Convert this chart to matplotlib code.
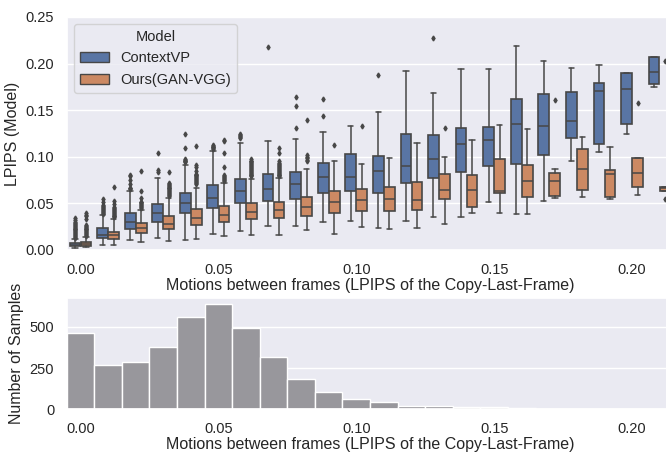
import numpy as np
import matplotlib
matplotlib.use("Agg")
import matplotlib.pyplot as plt
import seaborn as sns
from matplotlib.patches import Patch

# motion bins (LPIPS of copy-last-frame), one box group per 0.01 bin
bins = [0.00, 0.01, 0.02, 0.03, 0.04, 0.05, 0.06, 0.07, 0.08, 0.09, 0.10,
        0.11, 0.12, 0.13, 0.14, 0.15, 0.16, 0.17, 0.18, 0.19, 0.20, 0.21]
tick_labels = ["0.00", "0.05", "0.10", "0.15", "0.20"]

# ContextVP box statistics
ctx_lo = [0.0023, 0.0059, 0.0105, 0.0124, 0.0105, 0.0177, 0.0205, 0.026, 0.026, 0.0296, 0.0313,
          0.0234, 0.031, 0.0356, 0.035, 0.0517, 0.0388, 0.0525, 0.0952, 0.1055, 0.124, 0.1754]
ctx_q1 = [0.0041, 0.0134, 0.0227, 0.0296, 0.0392, 0.0446, 0.050, 0.0525, 0.055, 0.0607, 0.0632,
          0.0614, 0.0715, 0.0769, 0.084, 0.0904, 0.0926, 0.1023, 0.120, 0.1138, 0.135, 0.178]
ctx_med = [0.0058, 0.0162, 0.0296, 0.0392, 0.050, 0.0554, 0.0632, 0.0654, 0.0704, 0.0786, 0.0786,
           0.0847, 0.0901, 0.098, 0.114, 0.1184, 0.1356, 0.1331, 0.1382, 0.1708, 0.1729, 0.1912]
ctx_q3 = [0.0077, 0.0234, 0.0392, 0.0492, 0.0607, 0.0697, 0.0761, 0.0812, 0.0833, 0.0937, 0.103,
          0.1009, 0.124, 0.1234, 0.1306, 0.132, 0.1618, 0.167, 0.1694, 0.1797, 0.1894, 0.207]
ctx_hi = [0.012, 0.0374, 0.0632, 0.0772, 0.0915, 0.106, 0.1145, 0.117, 0.119, 0.127, 0.1334,
          0.148, 0.192, 0.1686, 0.194, 0.1937, 0.219, 0.2023, 0.1955, 0.198, 0.1894, 0.2075]
ctx_fliers = [
    [0.013, 0.014, 0.015, 0.016, 0.017, 0.018, 0.019, 0.020, 0.021, 0.022, 0.023, 0.024, 0.025,
     0.026, 0.027, 0.028, 0.029, 0.030, 0.032, 0.034],
    [0.039, 0.040, 0.041, 0.042, 0.043, 0.044, 0.045, 0.046, 0.047, 0.048, 0.051, 0.055],
    [0.065, 0.066, 0.067, 0.071, 0.075, 0.079, 0.081],
    [0.084, 0.086, 0.104],
    [0.094, 0.095, 0.096, 0.097, 0.098, 0.109, 0.125],
    [0.108, 0.109, 0.110, 0.111, 0.112, 0.113],
    [0.120, 0.121, 0.122, 0.123, 0.1245],
    [0.2177],
    [0.131, 0.155, 0.164],
    [0.144, 0.162],
    [], [0.188], [], [0.227], [], [], [], [], [], [], [], [],
]

# Ours(GAN-VGG) box statistics
our_lo = [0.003, 0.0059, 0.0081, 0.0098, 0.0113, 0.0152, 0.0162, 0.016, 0.0213, 0.0177, 0.0249,
          0.022, 0.0234, 0.0277, 0.0392, 0.0399, 0.0381, 0.0557, 0.0565, 0.0546, 0.0589, 0.0635]
our_q1 = [0.0044, 0.012, 0.0184, 0.022, 0.0267, 0.0302, 0.0328, 0.0339, 0.0367, 0.0392, 0.0414,
          0.042, 0.0425, 0.0543, 0.0463, 0.0607, 0.0568, 0.0582, 0.0643, 0.0571, 0.0672, 0.0635]
our_med = [0.0066, 0.0156, 0.0238, 0.0274, 0.0339, 0.0374, 0.041, 0.0428, 0.0463, 0.051, 0.0535,
           0.0546, 0.0532, 0.0643, 0.0646, 0.0635, 0.074, 0.0743, 0.0866, 0.0812, 0.0826, 0.066]
our_q3 = [0.0087, 0.0195, 0.0285, 0.0363, 0.0435, 0.0471, 0.0506, 0.0517, 0.0571, 0.0632, 0.065,
          0.0679, 0.0732, 0.0812, 0.0801, 0.098, 0.0912, 0.0823, 0.108, 0.0858, 0.0987, 0.0678]
our_hi = [0.014, 0.0328, 0.0428, 0.056, 0.0665, 0.072, 0.0758, 0.0772, 0.0872, 0.0958, 0.0923,
          0.0984, 0.1145, 0.0998, 0.1184, 0.134, 0.1296, 0.0869, 0.121, 0.1102, 0.0987, 0.0678]
our_fliers = [
    [0.015, 0.016, 0.017, 0.018, 0.019, 0.020, 0.021, 0.022, 0.023, 0.024, 0.025, 0.026, 0.027,
     0.033, 0.036, 0.038, 0.040],
    [0.035, 0.036, 0.037, 0.038, 0.039, 0.040, 0.041, 0.042, 0.043, 0.044, 0.045, 0.046,
     0.049, 0.053, 0.068],
    [0.045, 0.046, 0.047, 0.048, 0.049, 0.050, 0.051, 0.052, 0.056, 0.063, 0.085],
    [0.058, 0.059, 0.060, 0.061, 0.062, 0.063, 0.064, 0.065, 0.066, 0.067, 0.068, 0.069, 0.070,
     0.071, 0.072, 0.084],
    [0.071, 0.072, 0.073, 0.074, 0.075, 0.076, 0.077, 0.078, 0.079, 0.080, 0.081, 0.082, 0.085,
     0.089, 0.091, 0.1116],
    [0.074, 0.075, 0.076, 0.077, 0.078, 0.079, 0.080, 0.089, 0.104, 0.117, 0.118],
    [0.079, 0.080, 0.081, 0.082, 0.083, 0.084, 0.085, 0.086, 0.087, 0.088, 0.089, 0.090, 0.091,
     0.092, 0.093, 0.094, 0.095, 0.096, 0.098],
    [0.079, 0.080, 0.081, 0.082, 0.083, 0.084, 0.085, 0.086, 0.087, 0.088, 0.089, 0.090, 0.091,
     0.092, 0.093, 0.095, 0.104, 0.109],
    [0.095, 0.097, 0.099, 0.100, 0.102, 0.139],
    [0.1127],
    [0.133], [], [], [0.131], [], [], [], [0.161], [], [], [0.1575], [0.2027, 0.0546],
]

# number of samples per bin
n_samples = [462, 271, 285, 378, 558, 640, 492, 317, 185, 106, 62,
             42, 20, 20, 16, 12, 8, 2, 2, 4, 1, 1]

sns.set_theme(style="darkgrid")
plt.rcParams["font.family"] = ["Liberation Sans", "DejaVu Sans"]

blue = sns.desaturate("#4C72B0", 0.75)
orange = sns.desaturate("#DD8452", 0.75)
line_gray = "#474747"

fig = plt.figure(figsize=(6.66, 4.54), dpi=100)
W, H = 666, 454
left, width = 66.7 / W, 606.7 / W
ax = fig.add_axes([left, 1 - 250 / H, width, 233 / H])
ax2 = fig.add_axes([left, 1 - 409.3 / H, width, 111 / H])

pos = np.arange(len(bins))


def make_stats(lo, q1, med, q3, hi, fl):
    return [dict(whislo=a, q1=b, med=c, q3=d, whishi=e, fliers=f)
            for a, b, c, d, e, f in zip(lo, q1, med, q3, hi, fl)]


props = dict(
    widths=0.39, patch_artist=True, manage_ticks=False,
    whiskerprops=dict(color=line_gray, linewidth=1.1),
    capprops=dict(color=line_gray, linewidth=1.1),
    medianprops=dict(color=line_gray, linewidth=1.1),
    flierprops=dict(marker="d", markersize=2.5, markerfacecolor=line_gray,
                    markeredgecolor=line_gray, linestyle="none"),
)
b1 = ax.bxp(make_stats(ctx_lo, ctx_q1, ctx_med, ctx_q3, ctx_hi, ctx_fliers),
            positions=pos - 0.2, **props)
b2 = ax.bxp(make_stats(our_lo, our_q1, our_med, our_q3, our_hi, our_fliers),
            positions=pos + 0.2, **props)
for b, c in ((b1, blue), (b2, orange)):
    for box in b["boxes"]:
        box.set_facecolor(c)
        box.set_edgecolor(line_gray)
        box.set_linewidth(1.2)

tick_pos = [0, 5, 10, 15, 20]
fs = 10.5
lfs = 11.5
xlabel = "Motions between frames (LPIPS of the Copy-Last-Frame)"
ax.set_xlim(-0.5, len(bins) - 0.5)
ax.set_ylim(0, 0.25)
ax.set_yticks([0, 0.05, 0.10, 0.15, 0.20, 0.25])
ax.set_yticklabels(["0.00", "0.05", "0.10", "0.15", "0.20", "0.25"], fontsize=fs)
ax.set_xticks(tick_pos)
ax.set_xticklabels(tick_labels, fontsize=fs)
ax.xaxis.grid(False)
ax.set_ylabel("LPIPS (Model)", fontsize=lfs)
ax.set_xlabel(xlabel, fontsize=lfs, labelpad=1)
ax.tick_params(pad=3)

handles = [Patch(facecolor=blue, edgecolor=line_gray, label="ContextVP"),
           Patch(facecolor=orange, edgecolor=line_gray, label="Ours(GAN-VGG)")]
leg = ax.legend(handles=handles, title="Model", loc="upper left", fontsize=fs,
                title_fontsize=fs, bbox_to_anchor=(0.0, 1.0))

ax2.bar(pos, n_samples, width=1.0, color="#98979c", edgecolor="white", linewidth=1.0)
ax2.set_xlim(-0.5, len(bins) - 0.5)
ax2.set_ylim(0, 672)
ax2.set_yticks([0, 250, 500])
ax2.set_yticklabels(["0", "250", "500"], fontsize=fs)
ax2.set_xticks(tick_pos)
ax2.set_xticklabels(tick_labels, fontsize=fs)
ax2.xaxis.grid(False)
ax2.set_ylabel("Number of Samples", fontsize=lfs)
ax2.set_xlabel(xlabel, fontsize=lfs, labelpad=1)
ax2.tick_params(pad=3)

fig.savefig("out.png", dpi=100)
